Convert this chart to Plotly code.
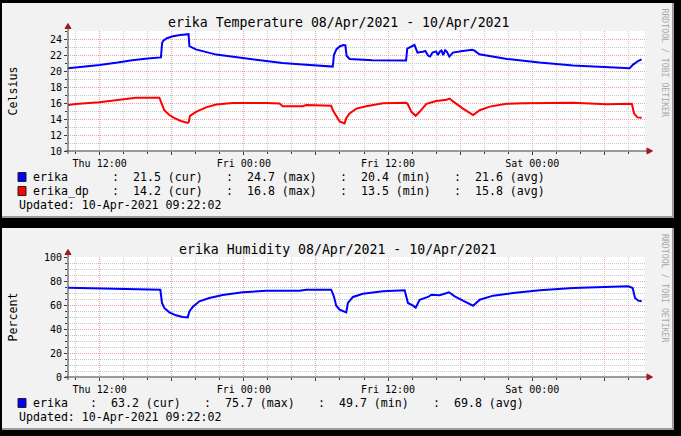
import plotly.graph_objects as go
import pandas as pd

W, H = 681, 436
BASE = pd.Timestamp("2021-04-08 00:00:00")
START = "2021-04-08 09:22:02"
END = "2021-04-10 09:22:02"

# ---------------- data (hours since Thu 08/Apr/2021 00:00) ----------------
temp_hours = [9.38, 10.5, 12.0, 13.5, 14.7, 16.0, 16.97, 17.1, 17.2, 17.3, 17.6, 18.1, 18.7,
              19.33, 19.4, 19.47, 20.0, 21.7, 23.0, 24.5, 26.0, 27.2, 28.6, 30.0, 31.4,
              31.5, 31.7, 32.0, 32.3, 32.45, 32.55, 32.8, 34.7, 37.5, 37.6, 38.2, 38.35,
              38.45, 38.9, 39.1, 39.35, 39.5, 39.7, 40.0, 40.15, 40.3, 40.45, 40.6, 40.75,
              40.9, 41.1, 41.4, 42.2, 43.0, 43.2, 43.6, 45.9, 48.6, 51.4, 54.2, 56.1,
              56.4, 56.8, 57.1]
temp_values = [20.35, 20.5, 20.75, 21.05, 21.35, 21.55, 21.65, 21.7, 23.5, 23.8, 24.1, 24.35, 24.5,
               24.65, 24.6, 23.1, 22.7, 22.05, 21.8, 21.45, 21.2, 21.0, 20.85, 20.7, 20.55,
               22.0, 22.7, 23.1, 23.25, 23.2, 21.9, 21.5, 21.35, 21.3, 22.8, 23.25, 22.8,
               22.3, 22.4, 22.5, 21.9, 21.8, 22.3, 22.45, 22.0, 22.4, 22.55, 22.0, 22.6,
               22.4, 21.8, 22.3, 22.5, 22.65, 22.55, 22.1, 21.5, 21.05, 20.7, 20.5, 20.35,
               20.8, 21.25, 21.45]

dp_hours = [9.38, 10.02, 11.97, 13.91, 15.02, 16.97, 17.16, 17.38, 17.8, 18.22, 18.77, 19.33,
            19.41, 19.52, 20.02, 20.86, 21.69, 23.08, 25.86, 26.97, 27.24, 28.91, 29.19,
            31.13, 31.27, 31.41, 31.69, 31.97, 32.38, 32.52, 32.8, 33.36, 34.19, 35.58,
            37.52, 37.66, 37.94, 38.3, 38.63, 39.19, 40.02, 40.86, 41.13, 41.41, 42.24,
            43.08, 43.63, 44.47, 45.86, 47.25, 51.41, 54.19, 56.13, 56.3, 56.47, 56.75, 57.11]
dp_values = [15.75, 15.88, 16.08, 16.46, 16.67, 16.67, 15.96, 15.1, 14.5, 14.1, 13.75, 13.5,
             13.6, 14.4, 14.9, 15.45, 15.8, 16.0, 16.0, 15.95, 15.6, 15.6, 15.75,
             15.6, 15.65, 15.1, 14.3, 13.7, 13.45, 14.1, 14.7, 15.3, 15.6, 15.96,
             16.04, 15.8, 14.9, 14.4, 14.9, 15.9, 16.25, 16.4, 16.55, 16.2, 15.3,
             14.5, 15.1, 15.55, 15.9, 15.96, 16.04, 15.85, 15.9, 15.85, 14.7, 14.2, 14.15]

hum_hours = [9.38, 10.86, 11.97, 13.36, 15.3, 15.86, 17.05, 17.19, 17.38, 17.8, 18.36, 18.91,
             19.33, 19.47, 19.74, 20.3, 21.13, 22.24, 23.91, 25.86, 28.63, 29.19, 31.27,
             31.49, 31.69, 31.97, 32.52, 32.66, 33.08, 33.91, 35.58, 37.38, 37.66, 38.08,
             38.3, 38.63, 39.33, 39.61, 40.3, 41.08, 41.55, 42.52, 43.08, 43.63, 44.75,
             46.41, 48.63, 51.41, 54.19, 55.99, 56.36, 56.55, 56.83, 57.11]
hum_values = [74.4, 74.2, 73.6, 73.3, 73.3, 73.0, 72.8, 61.7, 57.5, 53.9, 51.4, 50.0,
              49.7, 54.7, 58.3, 63.1, 65.8, 68.3, 70.6, 71.9, 71.9, 72.8, 72.8,
              67.2, 59.4, 56.1, 53.9, 61.7, 66.7, 69.4, 71.4, 72.2, 61.7, 59.4,
              57.8, 64.4, 66.7, 68.6, 68.1, 70.6, 67.2, 62.2, 59.4, 64.4, 67.8,
              70.0, 72.2, 74.2, 74.7, 75.6, 74.2, 65.8, 63.6, 63.1]

x_tick_hours = [12, 18, 24, 30, 36, 42, 48, 54]
x_tick_text = ["Thu 12:00", "", "Fri 00:00", "", "Fri 12:00", "", "Sat 00:00", ""]

temp_title = "erika Temperature 08/Apr/2021 - 10/Apr/2021"
hum_title = "erika Humidity 08/Apr/2021 - 10/Apr/2021"
temp_unit = "Celsius"
hum_unit = "Percent"
updated_text = "Updated: 10-Apr-2021 09:22:02"
watermark = "RRDTOOL / TOBI OETIKER"

temp_names = ["erika", "erika_dp"]
temp_colors = ["#0000FF", "#FF0000"]
temp_stats = [["21.5 (cur)", "24.7 (max)", "20.4 (min)", "21.6 (avg)"],
              ["14.2 (cur)", "16.8 (max)", "13.5 (min)", "15.8 (avg)"]]
hum_names = ["erika"]
hum_colors = ["#0000FF"]
hum_stats = [["63.2 (cur)", "75.7 (max)", "49.7 (min)", "69.8 (avg)"]]

# ---------------- styling ----------------
MONO = "DejaVu Sans Mono"
MGRID = "#e6a8a8"
GRID = "#c8c8c8"
AXIS = "#3a3a3a"
ARROW = "#9b1c1c"
FACE = "#f2f2f2"
SHADE = "#9c9c9c"


def px(x):
    return x / W


def py(y):
    return 1 - y / H


def ts(hours):
    return [BASE + pd.Timedelta(hours=h) for h in hours]


fig = go.Figure()
fig.add_trace(go.Scatter(x=ts(temp_hours), y=temp_values, mode="lines",
                         line=dict(color=temp_colors[0], width=2), xaxis="x", yaxis="y",
                         hoverinfo="skip", showlegend=False))
fig.add_trace(go.Scatter(x=ts(dp_hours), y=dp_values, mode="lines",
                         line=dict(color=temp_colors[1], width=2), xaxis="x", yaxis="y",
                         hoverinfo="skip", showlegend=False))
fig.add_trace(go.Scatter(x=ts(hum_hours), y=hum_values, mode="lines",
                         line=dict(color=hum_colors[0], width=2), xaxis="x2", yaxis="y2",
                         hoverinfo="skip", showlegend=False))

PLOT_L, PLOT_R = 68, 644.8
panels = [dict(top=3, bottom=218, ptop=31, pbot=151),
          dict(top=228, bottom=430, ptop=257, pbot=377)]

shapes = []
annotations = []
for p in panels:
    shapes.append(dict(type="rect", xref="paper", yref="paper", layer="below",
                       x0=px(2), x1=px(674), y0=py(p["bottom"]), y1=py(p["top"]),
                       fillcolor=SHADE, line=dict(width=0)))
    shapes.append(dict(type="rect", xref="paper", yref="paper", layer="below",
                       x0=px(2), x1=px(672), y0=py(p["bottom"] - 2), y1=py(p["top"]),
                       fillcolor=FACE, line=dict(width=0)))
    shapes.append(dict(type="rect", xref="paper", yref="paper", layer="below",
                       x0=px(PLOT_L), x1=px(PLOT_R), y0=py(p["pbot"]), y1=py(p["ptop"]),
                       fillcolor="white", line=dict(width=0)))
    # axis lines
    shapes.append(dict(type="line", xref="paper", yref="paper", layer="above",
                       x0=px(65), x1=px(648), y0=py(p["pbot"]), y1=py(p["pbot"]),
                       line=dict(color=AXIS, width=1)))
    shapes.append(dict(type="line", xref="paper", yref="paper", layer="above",
                       x0=px(PLOT_L), x1=px(PLOT_L), y0=py(p["pbot"] + 3), y1=py(p["ptop"] - 3),
                       line=dict(color=AXIS, width=1)))
    # arrows
    up = "M {} {} L {} {} L {} {} Z".format(px(65), py(p["ptop"] - 2.5), px(71), py(p["ptop"] - 2.5),
                                            px(68), py(p["ptop"] - 7.5))
    right = "M {} {} L {} {} L {} {} Z".format(px(647), py(p["pbot"] - 3), px(647), py(p["pbot"] + 3),
                                               px(652.5), py(p["pbot"]))
    for path in (up, right):
        shapes.append(dict(type="path", xref="paper", yref="paper", layer="above", path=path,
                           fillcolor=ARROW, line=dict(color=ARROW, width=1)))


def text(x, y, s, size, xanchor="left", color="black", angle=0):
    annotations.append(dict(xref="paper", yref="paper", x=px(x), y=py(y), text=s,
                            showarrow=False, xanchor=xanchor, yanchor="middle",
                            textangle=angle, borderpad=0,
                            font=dict(family=MONO, size=size, color=color)))


# titles & units & watermark
text(338, 22.5, temp_title, 13.2, "center")
text(337.5, 249.3, hum_title, 13.2, "center")
text(12.5, 91, temp_unit, 11.6, "center", angle=-90)
text(12.5, 317, hum_unit, 11.6, "center", angle=-90)
text(665, 62.5, watermark, 8.2, "center", color="#a8a8a8", angle=90)
text(665, 288, watermark, 8.2, "center", color="#a8a8a8", angle=90)

# legends
temp_cols = [111, 225, 339, 453]
for i, (name, col, stats) in enumerate(zip(temp_names, temp_colors, temp_stats)):
    yc = 177 + 14 * i
    shapes.append(dict(type="rect", xref="paper", yref="paper", layer="above",
                       x0=px(18), x1=px(26), y0=py(yc + 4.5), y1=py(yc - 4.5),
                       fillcolor=col, line=dict(color="#202020", width=1)))
    text(32, yc, name, 11.6)
    for cx, st in zip(temp_cols, stats):
        text(cx, yc, ":  " + st, 11.6)
text(18, 205, updated_text, 11.6)

hum_cols = [88.5, 203, 317, 432]
for i, (name, col, stats) in enumerate(zip(hum_names, hum_colors, hum_stats)):
    yc = 403 + 14 * i
    shapes.append(dict(type="rect", xref="paper", yref="paper", layer="above",
                       x0=px(18), x1=px(26), y0=py(yc + 4.5), y1=py(yc - 4.5),
                       fillcolor=col, line=dict(color="#202020", width=1)))
    text(32, yc, name, 11.6)
    for cx, st in zip(hum_cols, stats):
        text(cx, yc, ":  " + st, 11.6)
text(18, 417, updated_text, 11.6)

tickfont = dict(family=MONO, size=10, color="black")


def xaxis_cfg(anchor):
    return dict(domain=[px(PLOT_L), px(PLOT_R)], range=[START, END], type="date", anchor=anchor,
                tickmode="array", tickvals=ts(x_tick_hours), ticktext=x_tick_text,
                showgrid=True, gridcolor=MGRID, griddash="1px,1px", gridwidth=1,
                ticks="outside", ticklen=3, tickcolor=AXIS, tickfont=tickfont,
                showline=False, zeroline=False, fixedrange=True, automargin=False,
                minor=dict(tickmode="linear", tick0="2021-04-08 00:00:00", dtick=7200000,
                           showgrid=True, gridcolor=GRID, griddash="1px,1px", gridwidth=1,
                           ticks="outside", ticklen=2, tickcolor=AXIS))


def yaxis_cfg(anchor, p, rng, dtick, mdtick):
    return dict(domain=[py(p["pbot"]), py(p["ptop"])], range=rng, anchor=anchor,
                tickmode="linear", tick0=rng[0], dtick=dtick,
                showgrid=True, gridcolor=MGRID, griddash="1px,1px", gridwidth=1,
                ticks="outside", ticklen=3, tickcolor=AXIS, tickfont=tickfont,
                showline=False, zeroline=False, fixedrange=True, automargin=False,
                minor=dict(tickmode="linear", tick0=rng[0], dtick=mdtick,
                           showgrid=True, gridcolor=GRID, griddash="1px,1px", gridwidth=1,
                           ticks="outside", ticklen=2, tickcolor=AXIS))


fig.update_layout(
    template="none",
    width=W, height=H, autosize=False,
    margin=dict(l=0, r=0, t=0, b=0, pad=0, autoexpand=False),
    paper_bgcolor="black", plot_bgcolor="rgba(0,0,0,0)",
    showlegend=False,
    xaxis=xaxis_cfg("y"),
    yaxis=yaxis_cfg("x", panels[0], [10, 25], 2, 1),
    xaxis2=xaxis_cfg("y2"),
    yaxis2=yaxis_cfg("x2", panels[1], [0, 100], 20, 5),
    shapes=shapes,
    annotations=annotations,
)

fig.write_html("out.html", config=dict(displayModeBar=False))
